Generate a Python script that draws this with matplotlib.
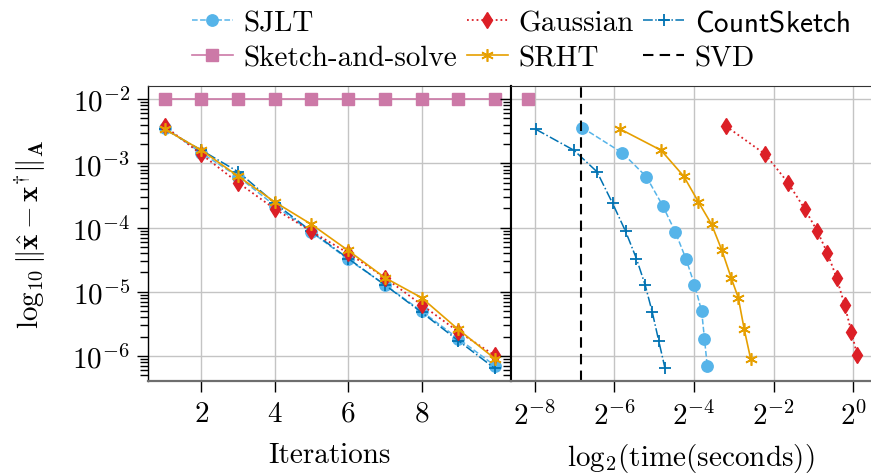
import numpy as np
import matplotlib
matplotlib.use('Agg')
import matplotlib.pyplot as plt
from matplotlib.ticker import LogLocator, NullLocator, NullFormatter

plt.rcParams['font.family'] = 'serif'
plt.rcParams['font.serif'] = ['cmr10']
plt.rcParams['mathtext.fontset'] = 'cm'
plt.rcParams['axes.formatter.use_mathtext'] = True
plt.rcParams['font.size'] = 21

# Dane
iters = [1, 2, 3, 4, 5, 6, 7, 8, 9, 10]
err_sjlt = [3.6e-3, 1.45e-3, 6.2e-4, 2.2e-4, 8.5e-5, 3.2e-5, 1.29e-5, 5.0e-6, 1.87e-6, 7.1e-7]
err_gauss = [3.8e-3, 1.38e-3, 5.0e-4, 1.95e-4, 8.7e-5, 4.0e-5, 1.66e-5, 6.3e-6, 2.4e-6, 1.02e-6]
err_count = [3.4e-3, 1.6e-3, 7.4e-4, 2.4e-4, 8.7e-5, 3.3e-5, 1.28e-5, 4.8e-6, 1.74e-6, 6.4e-7]
err_srht = [3.4e-3, 1.6e-3, 6.3e-4, 2.5e-4, 1.12e-4, 4.4e-5, 1.66e-5, 8.1e-6, 2.6e-6, 9.1e-7]
err_sas = [1e-2] * 10

# log2 czasu (sekundy)
log2t_sjlt = [-6.81, -5.80, -5.20, -4.79, -4.47, -4.20, -3.99, -3.81, -3.74, -3.67]
log2t_gauss = [-3.20, -2.21, -1.64, -1.22, -0.90, -0.65, -0.42, -0.22, -0.05, 0.10]
log2t_count = [-7.98, -7.02, -6.44, -6.05, -5.72, -5.45, -5.23, -5.05, -4.89, -4.73]
log2t_srht = [-5.85, -4.83, -4.26, -3.89, -3.56, -3.30, -3.07, -2.89, -2.74, -2.58]
log2t_sas = [-8.18]
log2t_svd = -6.85

time_ticks = [-8, -6, -4, -2, 0]

c_sjlt = '#56B4E9'
c_gauss = '#DC1F26'
c_count = '#0072B2'
c_srht = '#E69F00'
c_sas = '#CC79A7'

fig = plt.figure(figsize=(8.71, 4.77), dpi=100)
ax1 = fig.add_axes([0.170, 0.199, 0.4167, 0.6184])
ax2 = fig.add_axes([0.5867, 0.199, 0.4133, 0.6184])

styles = dict(
    sjlt=dict(color=c_sjlt, ls='--', marker='o', ms=8.2, lw=1.1, label='SJLT'),
    sas=dict(color=c_sas, ls='-', marker='s', ms=8.6, lw=1.2, label='Sketch-and-solve'),
    gauss=dict(color=c_gauss, ls=':', marker='d', ms=8.5, lw=1.3, label='Gaussian'),
    srht=dict(color=c_srht, ls='-', marker=(6, 2, 0), ms=9, mew=1.2, lw=1.2, label='SRHT'),
    count=dict(color=c_count, ls='-.', marker='+', ms=8, mew=1.3, lw=1.1, label=r'$\mathsf{CountSketch}$'),
)

# Lewy wykres - iteracje
ax1.plot(iters, err_sas, **styles['sas'])
ax1.plot(iters, err_sjlt, **styles['sjlt'])
ax1.plot(iters, err_count, **styles['count'])
ax1.plot(iters, err_gauss, **styles['gauss'])
ax1.plot(iters, err_srht, **styles['srht'])

# Prawy wykres - czas
t = lambda v: 2.0 ** np.array(v)
ax2.plot(t(log2t_sas), err_sas[:1], **styles['sas'])
ax2.plot(t(log2t_sjlt), err_sjlt, **styles['sjlt'])
ax2.plot(t(log2t_count), err_count, **styles['count'])
ax2.plot(t(log2t_gauss), err_gauss, **styles['gauss'])
ax2.plot(t(log2t_srht), err_srht, **styles['srht'])
ax2.axvline(2.0 ** log2t_svd, color='black', ls='--', lw=1.5, dashes=(5, 3), label='SVD')

for ax in (ax1, ax2):
    ax.set_yscale('log')
    ax.set_ylim(10 ** -6.39, 10 ** -1.797)
    ax.yaxis.set_major_locator(LogLocator(base=10, numticks=10))
    ax.yaxis.set_minor_locator(LogLocator(base=10, subs=np.arange(2, 10), numticks=10))
    ax.grid(True, which='major', color='#c4c4c4', lw=1.0)
    ax.set_axisbelow(True)
    ax.tick_params(axis='both', which='major', direction='out', length=8, width=1.0, pad=6)
    ax.tick_params(axis='y', which='minor', direction='out', length=5.5, width=1.0)
    ax.spines['bottom'].set_color('#6e6e6e')
    ax.spines['bottom'].set_linewidth(1.6)
    ax.spines['top'].set_color('#333333')
    ax.spines['left'].set_linewidth(1.0)

ax1.set_xlim(0.544, 10.44)
ax1.set_xticks([2, 4, 6, 8])
ax1.set_xlabel('Iterations', labelpad=11)
ax1.set_ylabel(r'$\log_{10}\|\hat{\mathbf{x}}-\mathbf{x}^{\dagger}\|_{\mathbf{A}}$')
ax1.yaxis.set_label_coords(-0.275, 0.5)
ax1.tick_params(axis='y', which='major', pad=5)
ax1.spines['right'].set_linewidth(1.5)

ax2.set_xscale('log', base=2)
ax2.set_xlim(2.0 ** -8.60, 2.0 ** 0.445)
ax2.set_xticks([2.0 ** k for k in time_ticks])
ax2.set_xticklabels([r'$2^{%d}$' % k for k in time_ticks])
ax2.xaxis.set_minor_locator(NullLocator())
ax2.yaxis.set_major_formatter(NullFormatter())
ax2.yaxis.set_minor_formatter(NullFormatter())
ax2.set_xlabel(r'$\mathrm{log}_2(\mathrm{time(seconds)})$', labelpad=8)
ax2.spines['left'].set_linewidth(1.5)
ax2.spines['right'].set_visible(False)

h, l = ax2.get_legend_handles_labels()
order = [1, 0, 3, 4, 2, 5]
fig.legend([h[i] for i in order], [l[i] for i in order], ncol=3, frameon=False,
           loc='upper center', bbox_to_anchor=(0.598, 1.02), handlelength=1.4,
           handletextpad=0.35, columnspacing=0.35, labelspacing=0.3, borderpad=0.2)

fig.savefig('out.png', dpi=100)
